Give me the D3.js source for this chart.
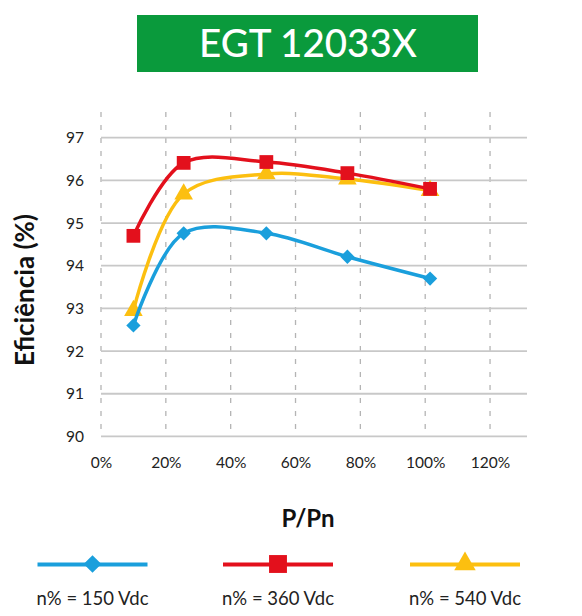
<!DOCTYPE html>
<html><head><meta charset="utf-8">
<script src="https://cdn.jsdelivr.net/npm/d3@7"></script>
<style>body{margin:0;background:#fff}svg{display:block}text{font-family:Lato,"Open Sans",sans-serif}</style>
</head><body><svg id="c" width="582" height="616"></svg>
<script>
const loadPct = [10, 25.5, 51, 76, 101.5];
const eff150 = [92.6, 94.76, 94.76, 94.21, 93.7];
const eff360 = [94.7, 96.41, 96.43, 96.17, 95.8];
const eff540 = [92.95, 95.68, 96.15, 96.03, 95.76];
const seriesNames = ["n% = 150 Vdc", "n% = 360 Vdc", "n% = 540 Vdc"];
const seriesColors = ["#1a9fdc", "#e3101c", "#fcbf10"];
const xTicks = [0, 20, 40, 60, 80, 100, 120];
const yTicks = [90, 91, 92, 93, 94, 95, 96, 97];

const svg = d3.select("#c");
const x = d3.scaleLinear().domain([0, 131.4]).range([101, 527]);
const y = d3.scaleLinear().domain([90, 97]).range([436.4, 137.7]);

// title
svg.append("rect").attr("x",137).attr("y",15).attr("width",341).attr("height",57).attr("fill","#0a9a3c");
svg.append("text").attr("x",308).attr("y",57).attr("text-anchor","middle").attr("fill","#fff")
  .attr("font-size",38.5).attr("font-weight",500).text("EGT 12033X");

// vertical dashed grid
svg.append("g").selectAll("line").data(xTicks).join("line")
  .attr("x1",d=>x(d)).attr("x2",d=>x(d)).attr("y1",112).attr("y2",y(90))
  .attr("stroke","#b4b4b4").attr("stroke-width",1.3).attr("stroke-dasharray","5,8");
// horizontal grid
svg.append("g").selectAll("line").data(yTicks).join("line")
  .attr("x1",x(0)).attr("x2",527).attr("y1",d=>y(d)).attr("y2",d=>y(d))
  .attr("stroke","#c8c8c8").attr("stroke-width",1.8);

// axes labels
const yAxis = d3.axisLeft(y).tickValues(yTicks).tickSize(0).tickPadding(0).tickFormat(d3.format("d"));
const ga = svg.append("g").attr("transform","translate(84,0)").call(yAxis);
ga.select(".domain").remove();
ga.selectAll("text").attr("font-size",15.5).attr("fill","#222").attr("font-family","Lato,sans-serif");
const xAxis = d3.axisBottom(x).tickValues(xTicks).tickSize(0).tickPadding(0).tickFormat(d=>d+"%");
const gx = svg.append("g").attr("transform","translate(0,457)").call(xAxis);
gx.select(".domain").remove();
gx.selectAll("text").attr("font-size",15.5).attr("fill","#222").attr("font-family","Lato,sans-serif");

svg.append("text").attr("transform","translate(34,290) rotate(-90)").attr("text-anchor","middle")
  .attr("font-size",26).attr("font-weight",700).attr("fill","#111").text("Eficiência (%)");
svg.append("text").attr("x",308).attr("y",527).attr("text-anchor","middle")
  .attr("font-size",24).attr("font-weight",700).attr("fill","#111").text("P/Pn");

const data = [eff150, eff360, eff540];
const line = d3.line().x((d,i)=>x(loadPct[i])).y(d=>y(d)).curve(d3.curveCatmullRom.alpha(0.5));
const symbols = [d3.symbolDiamond2, d3.symbolSquare, d3.symbolTriangle];
const symSizes = [130, 190, 150];
const order = [2, 0, 1];
order.forEach(k=>{
  const g = svg.append("g");
  g.append("path").attr("d", line(data[k])).attr("fill","none").attr("stroke",seriesColors[k]).attr("stroke-width",3.5);
  g.selectAll("path.m").data(data[k]).join("path").attr("class","m")
    .attr("transform",(d,i)=>`translate(${x(loadPct[i])},${y(d)})`)
    .attr("d", d3.symbol().type(symbols[k]).size(symSizes[k])).attr("fill",seriesColors[k]);
});

// legend
const legX = [92.5, 278, 465];
seriesNames.forEach((n,k)=>{
  const g = svg.append("g").attr("transform",`translate(${legX[k]},0)`);
  g.append("line").attr("x1",-55).attr("x2",55).attr("y1",564.5).attr("y2",564.5)
    .attr("stroke",seriesColors[k]).attr("stroke-width",4);
  g.append("path").attr("transform","translate(0,564)").attr("d", d3.symbol().type(symbols[k]).size(k===1?320:200)).attr("fill",seriesColors[k]);
  g.append("text").attr("x",0).attr("y",605).attr("text-anchor","middle").attr("font-size",18.5).attr("fill","#222").text(n);
});
</script></body></html>
